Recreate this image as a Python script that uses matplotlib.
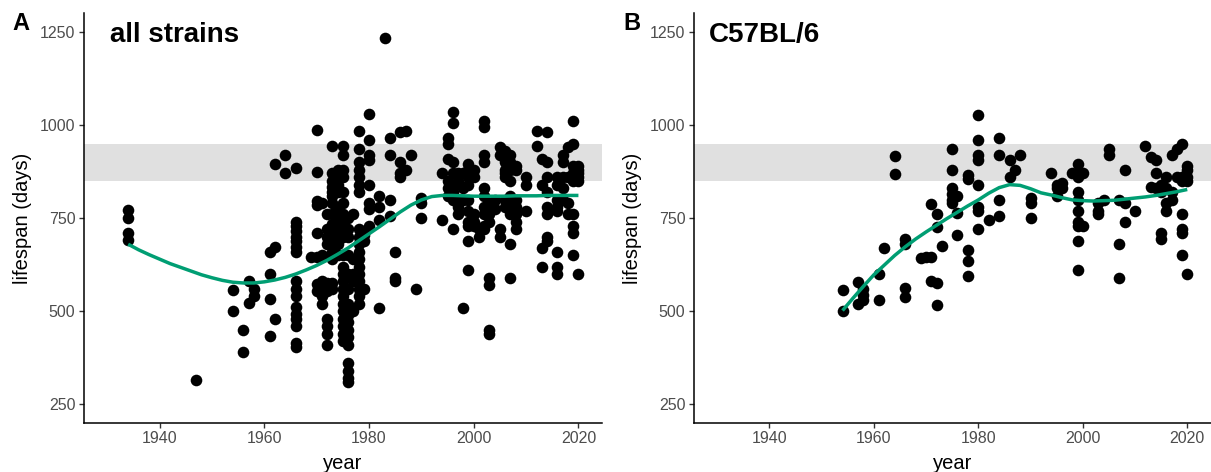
import numpy as np
import matplotlib
matplotlib.use("Agg")
import matplotlib.pyplot as plt

plt.rcParams['font.family'] = ['Liberation Sans', 'DejaVu Sans']

# lifespan per publication year, all strains
all_years = [1934, 1947, 1954, 1956, 1957, 1958, 1961, 1962, 1964, 1966,
             1969, 1970, 1971, 1972, 1973, 1974, 1975, 1976, 1977, 1978,
             1979, 1980, 1982, 1983, 1984, 1985, 1986, 1987, 1988, 1989,
             1990, 1994, 1995, 1996, 1997, 1998, 1999, 2000, 2001, 2002,
             2003, 2004, 2005, 2006, 2007, 2008, 2010, 2012, 2013, 2014,
             2016, 2017, 2018, 2019, 2020]
all_lifespans = [
    [773, 750, 711, 691],
    [315],
    [558, 500],
    [450, 390],
    [582, 522],
    [560, 542],
    [658, 600, 533, 433],
    [895, 673, 480],
    [920, 870],
    [885, 740, 728, 715, 700, 688, 672, 658, 582, 560, 540, 512, 492, 478, 460, 415, 405],
    [645],
    [988, 875, 795, 785, 710, 645, 573, 555],
    [790, 650, 580, 560, 540, 520],
    [760, 720, 700, 680, 575, 555, 480, 460, 440, 410],
    [945, 870, 850, 835, 820, 810, 790, 760, 735, 720, 700, 680, 660, 640, 575, 560],
    [880, 860, 840, 820, 780, 760, 740, 720, 700, 680, 650],
    [945, 920, 880, 860, 820, 790, 760, 740, 720, 700, 650, 620, 600, 580, 560, 540,
     520, 500, 480, 460, 440, 420],
    [750, 720, 700, 650, 600, 560, 520, 490, 470, 450, 430, 410, 360, 340, 320, 310],
    [760, 640, 600, 580, 500],
    [985, 935, 900, 880, 860, 840, 820, 720, 700, 680, 660, 640, 620, 600, 580, 560, 540, 520],
    [705, 690, 560],
    [1030, 960, 920, 905, 840, 790, 775, 730],
    [810, 780, 745, 510],
    [1235],
    [965, 920, 800, 755],
    [660, 590, 580],
    [980, 900, 870, 860],
    [985, 880],
    [920],
    [560],
    [805, 790, 750],
    [870, 745],
    [965, 950, 910, 850, 830, 810],
    [1035, 1005, 900, 870, 840, 820, 800, 720],
    [870, 850, 800, 780, 760],
    [870, 830, 800, 510],
    [895, 880, 860, 840, 800, 770, 740, 730, 690, 610],
    [880, 860, 760, 740, 730],
    [720, 700],
    [1010, 995, 920, 900, 830, 810, 780, 760, 730, 720],
    [790, 760, 740, 590, 570, 450, 440],
    [800, 775],
    [940, 920, 720, 700],
    [930, 910, 900, 880, 870, 860, 800, 780],
    [920, 900, 880, 850, 810, 790, 760, 680, 590],
    [890, 880, 800, 780, 760, 740, 720],
    [860, 840, 770],
    [985, 945],
    [910, 840, 670, 620],
    [980, 900, 860, 820, 780, 760, 700, 690],
    [860, 840, 800, 780, 770, 660, 620, 600],
    [920, 900, 860, 830, 800],
    [940, 860, 790, 760],
    [1010, 950, 890, 870, 860, 850, 760, 730, 710, 650],
    [890, 880, 870, 860, 850, 600],
]

# lifespan per publication year, C57BL/6 only
b6_years = [1954, 1957, 1958, 1961, 1962, 1964, 1966, 1969, 1970, 1971,
            1972, 1973, 1975, 1976, 1978, 1980, 1982, 1984, 1986, 1987,
            1988, 1990, 1994, 1995, 1996, 1998, 1999, 2000, 2003, 2004,
            2005, 2007, 2008, 2010, 2012, 2013, 2014, 2015, 2016, 2017,
            2018, 2019, 2020]
b6_lifespans = [
    [557, 500],
    [578, 520],
    [560, 545, 530],
    [600, 531],
    [671],
    [918, 869],
    [695, 680, 562, 539],
    [644],
    [645],
    [787, 645, 580],
    [760, 725, 575, 518],
    [675],
    [936, 880, 830, 815, 800, 790],
    [810, 765, 704],
    [865, 855, 665, 635, 594],
    [1027, 960, 920, 905, 840, 780, 770, 720],
    [745],
    [965, 920, 800, 755],
    [905, 860],
    [880],
    [920],
    [805, 790, 750],
    [870],
    [840, 830, 810],
    [845, 830],
    [870],
    [895, 870, 860, 820, 800, 770, 740, 730, 690, 610],
    [870, 730],
    [790, 770, 760],
    [800],
    [935, 920],
    [800, 680, 590],
    [880, 790, 740],
    [770],
    [945],
    [915, 835],
    [905, 870, 830],
    [840, 820, 710, 695],
    [860, 830, 790, 770],
    [920, 820, 800],
    [935, 860],
    [950, 860, 850, 760, 720, 710, 650],
    [890, 880, 860, 850, 600],
]

# smoothed trend
all_smooth_years = list(range(1934, 2021, 2))
all_smooth = [680, 665, 652, 640, 628, 618, 608, 598, 590, 583, 578, 576, 576,
              579, 584, 591, 600, 611, 623, 637, 653, 670, 689, 708, 727, 747,
              767, 785, 799, 808, 811, 811, 810, 809, 809, 809, 809, 810, 810,
              810, 811, 811, 811, 811]
b6_smooth_years = list(range(1954, 2021, 2))
b6_smooth = [502, 535, 567, 598, 624, 650, 673, 694, 713, 731, 749, 766, 783,
             799, 817, 832, 840, 838, 829, 818, 812, 805, 799, 797, 796, 797,
             798, 801, 804, 807, 811, 816, 821, 827]

# typical lifespan range
ref_low, ref_high = 850, 950

GREEN = '#009E73'


def expand(years, values):
    x = np.repeat(years, [len(v) for v in values])
    y = np.concatenate([np.asarray(v, dtype=float) for v in values])
    return x, y


def draw_panel(ax, years, values, sm_x, sm_y, title, title_x):
    ax.axhspan(ref_low, ref_high, color='#e0e0e0', lw=0, zorder=0)
    x, y = expand(years, values)
    ax.scatter(x, y, s=70, color='black', linewidths=0, zorder=2)
    ax.plot(sm_x, sm_y, color=GREEN, lw=2.5, zorder=3, solid_capstyle='butt')

    ax.set_xlim(1925.5, 2024.5)
    ax.set_ylim(200, 1300)
    ax.set_xticks([1940, 1960, 1980, 2000, 2020])
    ax.set_yticks([250, 500, 750, 1000, 1250])

    for side in ('top', 'right'):
        ax.spines[side].set_visible(False)
    for side in ('left', 'bottom'):
        ax.spines[side].set_linewidth(1.1)
        ax.spines[side].set_color('black')
    ax.tick_params(direction='out', length=3.5, width=1.0, color='#333333',
                   labelcolor='#4d4d4d', labelsize=11.5, pad=2.5)

    ax.set_xlabel('year', fontsize=14.5, color='black')
    ax.set_ylabel('lifespan (days)', fontsize=14.5, color='black')
    ax.xaxis.set_label_coords(0.5, -0.075)
    ax.yaxis.set_label_coords(-0.099, 0.5)
    ax.text(title_x, 0.93, title, transform=ax.transAxes, fontsize=20,
            fontweight='bold', va='baseline', ha='left')


fig = plt.figure(figsize=(12.11, 4.72), dpi=100)

ax_a = fig.add_axes([0.0691, 0.1038, 0.428, 0.868])
ax_b = fig.add_axes([0.5728, 0.1038, 0.427, 0.868])

draw_panel(ax_a, all_years, all_lifespans, all_smooth_years, all_smooth,
           'all strains', 0.05)
draw_panel(ax_b, b6_years, b6_lifespans, b6_smooth_years, b6_smooth,
           'C57BL/6', 0.03)

fig.text(0.010, 0.937, 'A', fontsize=17, fontweight='bold', va='baseline')
fig.text(0.5145, 0.937, 'B', fontsize=17, fontweight='bold', va='baseline')

fig.savefig('out.png', dpi=100, facecolor='white')
